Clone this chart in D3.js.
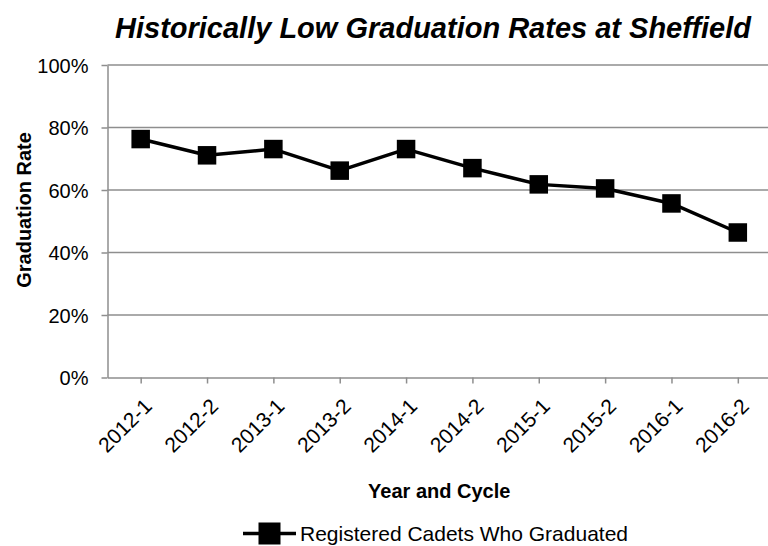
<!DOCTYPE html>
<html>
<head>
<meta charset="utf-8">
<script src="https://cdn.jsdelivr.net/npm/d3@7"></script>
<style>
    body { margin: 0; background: #fff; }
    text { font-family: "Liberation Sans", Arial, sans-serif; fill: #000; }
</style>
</head>
<body>
<div id="chart"></div>
<script>
const categories = ['2012-1', '2012-2', '2013-1', '2013-2', '2014-1', '2014-2', '2015-1', '2015-2', '2016-1', '2016-2'];
const gradRates = [0.763, 0.711, 0.731, 0.662, 0.731, 0.670, 0.618, 0.605, 0.557, 0.464];
const yTicks = [0, 0.2, 0.4, 0.6, 0.8, 1.0];
const seriesName = 'Registered Cadets Who Graduated';

const width = 768, height = 546;
const plot = { left: 107.5, right: 771, top: 65, bottom: 377.5 };
const gridColor = '#8e8e8e';

const svg = d3.select('#chart').append('svg')
    .attr('width', width)
    .attr('height', height);

const x = d3.scalePoint()
    .domain(categories)
    .range([plot.left, plot.right])
    .padding(0.5);

const y = d3.scaleLinear()
    .domain([0, 1])
    .range([plot.bottom, plot.top]);

// gridlines
svg.append('g')
    .selectAll('line')
    .data(yTicks.filter(d => d > 0))
    .join('line')
    .attr('x1', plot.left)
    .attr('x2', plot.right)
    .attr('y1', d => y(d))
    .attr('y2', d => y(d))
    .attr('stroke', gridColor)
    .attr('stroke-width', 1.5);

// y axis
const yAxis = svg.append('g')
    .attr('transform', `translate(${plot.left},0)`)
    .call(d3.axisLeft(y).tickValues(yTicks).tickFormat(d3.format('.0%')).tickSize(6).tickSizeOuter(0));
yAxis.select('.domain').attr('stroke', gridColor).attr('stroke-width', 1.5);
yAxis.selectAll('.tick line').attr('stroke', gridColor).attr('stroke-width', 1.5);
yAxis.selectAll('.tick text')
    .attr('x', -19)
    .attr('dy', '0.35em')
    .style('font-size', '20px')
    .style('font-family', '"Liberation Sans", Arial, sans-serif')
    .attr('fill', '#000');

// x axis
const xAxis = svg.append('g')
    .attr('transform', `translate(0,${plot.bottom})`)
    .call(d3.axisBottom(x).tickSize(6).tickSizeOuter(0));
xAxis.select('.domain').attr('stroke', gridColor).attr('stroke-width', 1.5);
xAxis.selectAll('.tick line').attr('stroke', gridColor).attr('stroke-width', 1.5);
xAxis.selectAll('.tick text')
    .attr('x', 0)
    .attr('y', 0)
    .attr('dy', 0)
    .attr('text-anchor', 'end')
    .attr('transform', 'translate(12,30) rotate(-45)')
    .style('font-size', '21px')
    .style('font-family', '"Liberation Sans", Arial, sans-serif')
    .attr('fill', '#000');

// series line
const line = d3.line()
    .x((d, i) => x(categories[i]))
    .y(d => y(d));

svg.append('path')
    .datum(gradRates)
    .attr('d', line)
    .attr('fill', 'none')
    .attr('stroke', '#000')
    .attr('stroke-width', 3.5)
    .attr('stroke-linejoin', 'round');

const mSize = 18.5;
svg.append('g')
    .selectAll('rect')
    .data(gradRates)
    .join('rect')
    .attr('x', (d, i) => x(categories[i]) - mSize / 2)
    .attr('y', d => y(d) - mSize / 2)
    .attr('width', mSize)
    .attr('height', mSize)
    .attr('fill', '#000');

// titles
svg.append('text')
    .attr('x', 433)
    .attr('y', 38)
    .attr('text-anchor', 'middle')
    .style('font-size', '29px')
    .style('font-weight', 'bold')
    .style('font-style', 'italic')
    .text('Historically Low Graduation Rates at Sheffield');

svg.append('text')
    .attr('transform', 'translate(31,210) rotate(-90)')
    .attr('text-anchor', 'middle')
    .style('font-size', '20px')
    .style('font-weight', 'bold')
    .text('Graduation Rate');

svg.append('text')
    .attr('x', (plot.left + plot.right) / 2)
    .attr('y', 498)
    .attr('text-anchor', 'middle')
    .style('font-size', '20px')
    .style('font-weight', 'bold')
    .text('Year and Cycle');

// legend
const legend = svg.append('g').attr('transform', 'translate(0,533.5)');
legend.append('line')
    .attr('x1', 243).attr('x2', 296)
    .attr('y1', 0).attr('y2', 0)
    .attr('stroke', '#000')
    .attr('stroke-width', 3.5);
legend.append('rect')
    .attr('x', 258.5).attr('y', -11)
    .attr('width', 22).attr('height', 22)
    .attr('fill', '#000');
legend.append('text')
    .attr('x', 300)
    .attr('y', 0)
    .attr('dy', '0.35em')
    .style('font-size', '21px')
    .text(seriesName);
</script>
</body>
</html>
